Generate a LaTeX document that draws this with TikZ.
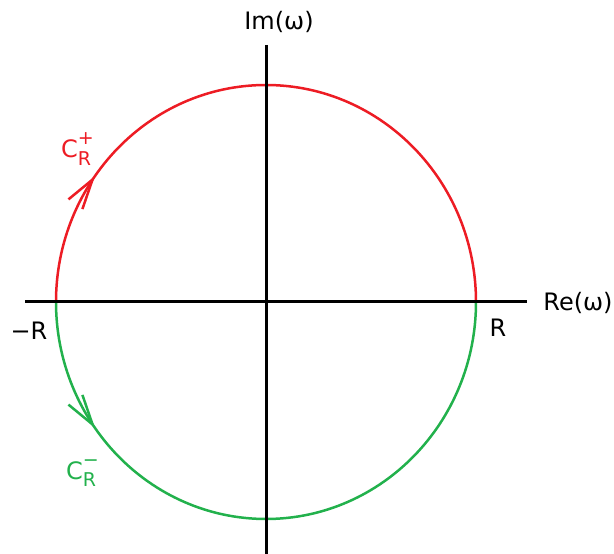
\documentclass[tikz,border=0pt]{standalone}
\usepackage{fontspec}
\setmainfont{DejaVu Sans}
\usetikzlibrary{arrows.meta,decorations.markings}
\definecolor{cred}{RGB}{237,28,36}
\definecolor{cgreen}{RGB}{34,177,76}
\newcommand{\contlabel}[1]{C\rlap{\raisebox{1.0ex}{\fontsize{19}{19}\selectfont #1}}\raisebox{-0.55ex}{\fontsize{19}{19}\selectfont R}}

\begin{document}
\begin{tikzpicture}[x=1pt, y=1pt, every node/.style={font=\fontsize{24}{28}\selectfont},
  axis/.style={line width=3pt},
  arcline/.style={line width=2.5pt},
  barb/.style={postaction={decorate}, decoration={markings,
    mark=at position #1 with {\arrow{Straight Barb[length=30pt,width=17pt,line width=2.5pt]}}}}]
\useasboundingbox (0,0) rectangle (614,554);
\coordinate (o) at (266,252);
\coordinate (mr) at (56,252);
\coordinate (xl) at (25,252);
\coordinate (xr) at (527,252);
\coordinate (yt) at (266,509);
\coordinate (yb) at (266,0);
% contour halves
\draw[arcline,cred,barb=0.2] (mr) arc[start angle=180,end angle=0,x radius=210,y radius=217];
\draw[arcline,cgreen,barb=0.2] (mr) arc[start angle=180,end angle=360,x radius=210,y radius=217];
% axes
\draw[axis] (xl) -- (xr);
\draw[axis] (yt) -- (yb);
\node (im) at (279,532) {Im(ω)};
\node (re) at (578,251) {Re(ω)};
\node (mrl) at (29,223) {−R};
\node (rl) at (498,226) {R};
\node[cred] (cp) at (76,405) {\contlabel{+}};
\node[cgreen] (cm) at (81,81) {\contlabel{−}};
\end{tikzpicture}
\end{document}
